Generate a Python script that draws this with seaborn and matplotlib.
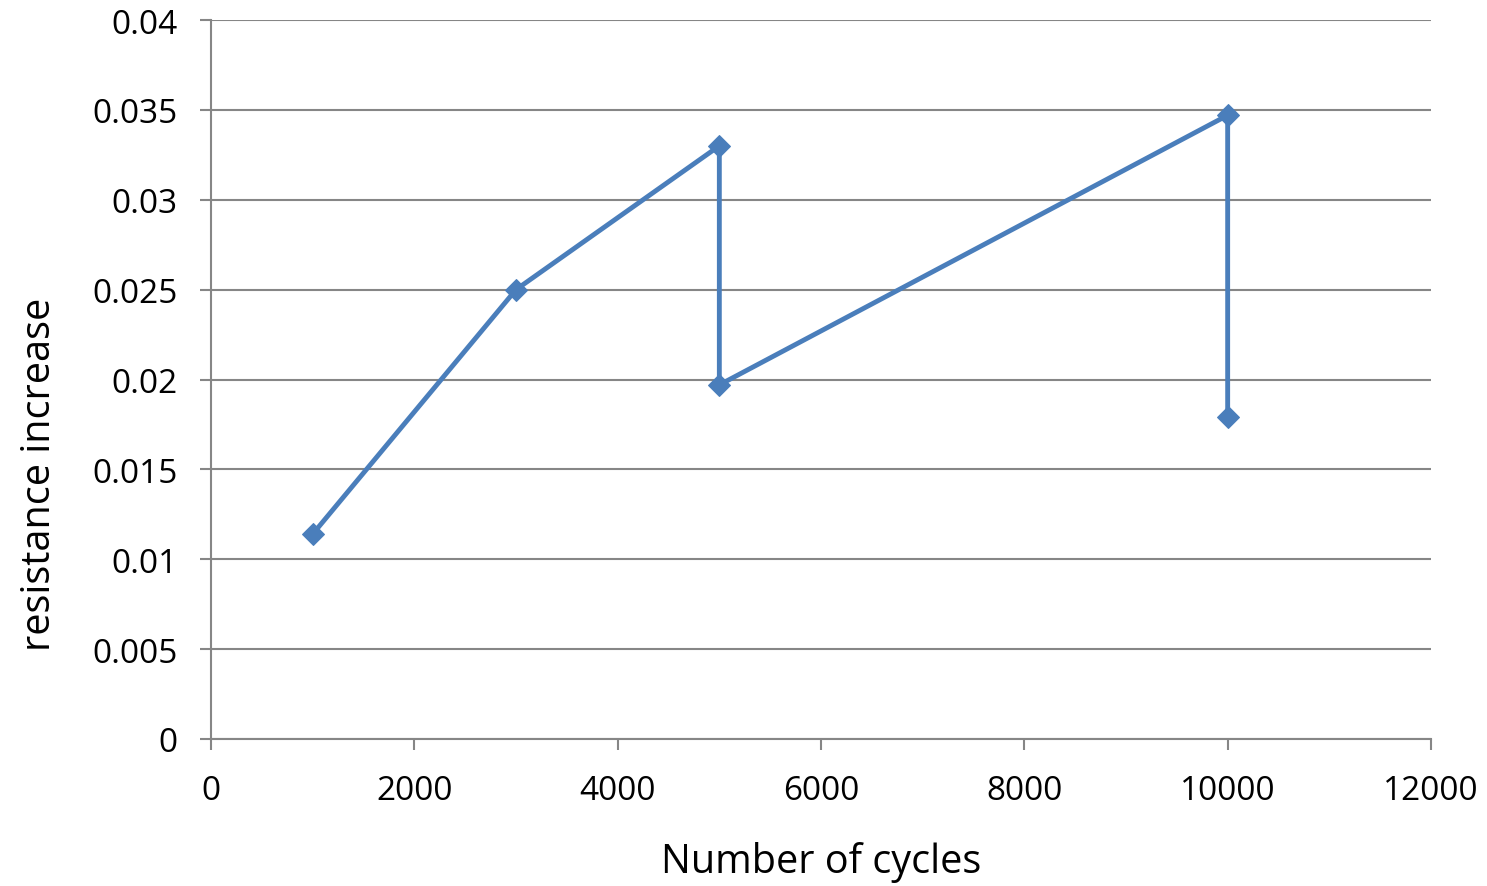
import matplotlib
matplotlib.use("Agg")
import matplotlib.pyplot as plt
import seaborn as sns
import pandas as pd

cycles = [1000, 3000, 5000, 5000, 10000, 10000]
resistance = [0.0114, 0.0250, 0.0330, 0.0197, 0.0347, 0.0179]
x_ticks = [0, 2000, 4000, 6000, 8000, 10000, 12000]
y_ticks = [0, 0.005, 0.01, 0.015, 0.02, 0.025, 0.03, 0.035, 0.04]
y_labels = ["0", "0.005", "0.01", "0.015", "0.02", "0.025", "0.03", "0.035", "0.04"]

sns.set_theme(style="white")
plt.rcParams['font.family'] = ['Open Sans', 'DejaVu Sans']

df = pd.DataFrame({"cycles": cycles, "resistance": resistance, "order": range(len(cycles))})

fig = plt.figure(figsize=(14.87, 8.87), dpi=100)
ax = fig.add_axes([211/1487, 1-740/887, (1431-211)/1487, (740-21)/887])

sns.lineplot(data=df, x="cycles", y="resistance", sort=False, estimator=None,
             color="#4a7ebb", linewidth=3.5, marker="D", markersize=11,
             markeredgecolor="#4a7ebb", ax=ax)

ax.set_xlim(0, 12000)
ax.set_ylim(0, 0.04)
ax.set_xticks(x_ticks)
ax.set_xticklabels([str(t) for t in x_ticks])
ax.set_yticks(y_ticks)
ax.set_yticklabels(y_labels)
ax.yaxis.grid(True, color="#868686", linewidth=1.5)
ax.xaxis.grid(False)
for s in ["top", "right"]:
    ax.spines[s].set_visible(False)
for s in ["left", "bottom"]:
    ax.spines[s].set_color("#868686")
    ax.spines[s].set_linewidth(1.5)
ax.tick_params(axis="both", which="major", direction="out", length=8, width=1.5,
               color="#868686", labelsize=24, labelcolor="black",
               bottom=True, left=True)
ax.tick_params(axis="x", pad=17)
ax.tick_params(axis="y", pad=16)
ax.set_xlabel("Number of cycles", fontsize=28.5, labelpad=25, color="black")
ax.set_ylabel("resistance increase", fontsize=28.5, color="black")
ax.yaxis.set_label_coords(-0.124, 0.37)

fig.savefig("out.png", dpi=100)
